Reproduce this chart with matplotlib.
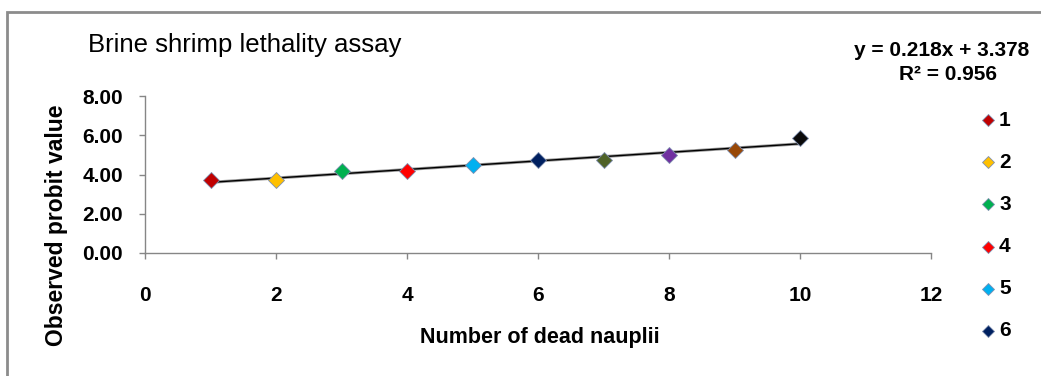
import numpy as np
import matplotlib
matplotlib.use("Agg")
import matplotlib.pyplot as plt
from matplotlib.patches import Rectangle
from matplotlib.lines import Line2D

# Data
dead_nauplii = [1, 2, 3, 4, 5, 6, 7, 8, 9, 10]
probit_values = [3.72, 3.72, 4.16, 4.16, 4.48, 4.75, 4.75, 5.00, 5.25, 5.84]
series_labels = ["1", "2", "3", "4", "5", "6", "7", "8", "9", "10"]
series_colors = ["#C00000", "#FFC000", "#00B050", "#FF0000", "#00B0F0",
                 "#002060", "#4F6228", "#7030A0", "#984807", "#0A0A0A"]
x_ticks = [0, 2, 4, 6, 8, 10, 12]
y_ticks = [0, 2, 4, 6, 8]
legend_count = 6
equation_text = "y = 0.218x + 3.378"
r2_text = "R\u00b2 = 0.956"

plt.rcParams['font.family'] = ['Liberation Sans', 'DejaVu Sans']

fig = plt.figure(figsize=(10.41, 3.76), dpi=100)
W, H = 1041, 376

# Chart area border (extends past right/bottom edges)
fig.patches.append(Rectangle((7 / W, -0.2), 1.2, 1 - 12 / H + 0.2,
                             transform=fig.transFigure, fill=False,
                             edgecolor="#8C8C8C", linewidth=2.0))

ax = fig.add_axes([145 / W, 1 - 253 / H, (931 - 145) / W, (253 - 96) / H])
ax.set_xlim(0, 12)
ax.set_ylim(0, 8)

axis_color = "#868686"
for side in ["top", "right"]:
    ax.spines[side].set_visible(False)
for side in ["left", "bottom"]:
    ax.spines[side].set_color(axis_color)
    ax.spines[side].set_linewidth(1.0)

ax.set_xticks(x_ticks)
ax.set_yticks(y_ticks)
ax.set_xticklabels([str(t) for t in x_ticks])
ax.set_yticklabels([f"{t:.2f}" for t in y_ticks])
ax.tick_params(axis="both", colors=axis_color, length=4, width=1.0,
               labelcolor="black", labelsize=15)
ax.tick_params(axis="x", pad=20)
ax.tick_params(axis="y", pad=12)
for lab in ax.get_xticklabels() + ax.get_yticklabels():
    lab.set_fontweight("bold")

# Trendline from a linear fit
coef = np.polyfit(dead_nauplii, probit_values, 1)
xs = np.array([min(dead_nauplii), max(dead_nauplii)])
ax.plot(xs, np.polyval(coef, xs), color="#9A9A9A", linewidth=2.2, zorder=2)
ax.plot(xs, np.polyval(coef, xs), color="black", linewidth=1.0, zorder=3)

# Points
for x, y, c in zip(dead_nauplii, probit_values, series_colors):
    ax.plot([x], [y], marker="D", markersize=8, color=c,
            markeredgecolor="#7F8FB0", markeredgewidth=0.6,
            linestyle="none", zorder=4)

fig.text(540 / W, 1 - 338 / H, "Number of dead nauplii", fontsize=15.5,
         fontweight="bold", ha="center", va="center")
fig.text(56 / W, 1 - 225 / H, "Observed probit value", rotation=90,
         fontsize=16.5, fontweight="bold", ha="center", va="center")

fig.text(88 / W, 1 - 45 / H, "Brine shrimp lethality assay", fontsize=18.5,
         fontweight="medium", ha="left", va="center")

fig.text(942 / W, 1 - 50 / H, equation_text, fontsize=15, fontweight="bold",
         ha="center", va="center")
fig.text(948 / W, 1 - 75 / H, r2_text, fontsize=15, fontweight="bold",
         ha="center", va="center")

# Legend (only first entries fit in the chart area)
for i in range(legend_count):
    yy = 1 - (120 + 42.2 * i) / H
    fig.add_artist(Line2D([988 / W], [yy], marker="D", markersize=6.5,
                          color=series_colors[i], markeredgecolor="#7F8FB0",
                          markeredgewidth=0.6, linestyle="none",
                          transform=fig.transFigure))
    fig.text(999 / W, yy, series_labels[i], fontsize=15, fontweight="bold",
             ha="left", va="center")

fig.savefig("out.png", dpi=100)
